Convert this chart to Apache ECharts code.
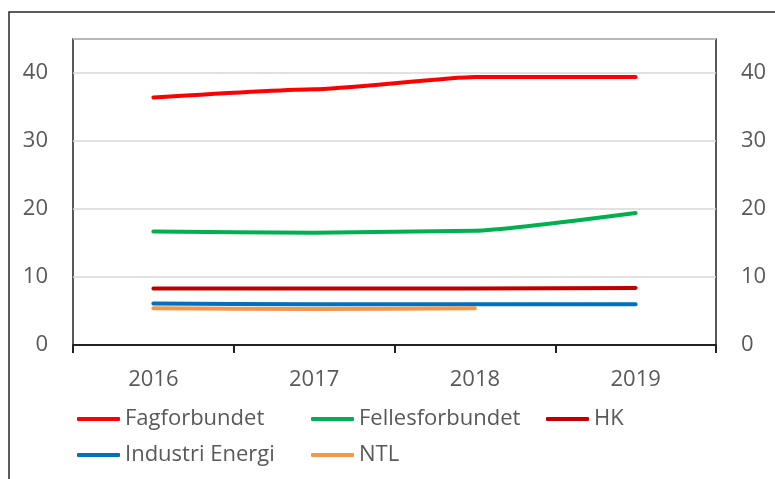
<!DOCTYPE html>
<html>
<head>
<meta charset="utf-8">
<script src="https://cdn.jsdelivr.net/npm/echarts@6/dist/echarts.min.js"></script>
<style>
  html, body { margin: 0; padding: 0; background: #fff; }
  #chart { width: 775px; height: 479px; }
</style>
</head>
<body>
<div id="chart"></div>
<script>
// data
var years = ['2016', '2017', '2018', '2019'];
var fagforbundet = [36.4, 37.6, 39.4, 39.4];
var fellesforbundet = [16.7, 16.5, 16.8, 19.4];
var hk = [8.3, 8.3, 8.3, 8.4];
var industriEnergi = [6.1, 6.0, 6.0, 6.0];
var ntl = [5.4, 5.3, 5.4, null];

var txt = '#595959';
var font = 'Open Sans';

function line(name, data, color) {
    return {
        name: name,
        type: 'line',
        data: data,
        smooth: 0.15,
        smoothMonotone: 'x',
        showSymbol: false,
        symbol: 'none',
        connectNulls: false,
        lineStyle: { color: color, width: 4, cap: 'round', join: 'round' },
        itemStyle: { color: color }
    };
}

function yAx(pos) {
    return {
        type: 'value',
        position: pos,
        min: 0,
        max: 45,
        interval: 10,
        axisLine: { show: false },
        axisTick: { show: false },
        axisLabel: {
            color: txt, fontFamily: font, fontSize: 22,
            margin: 25, showMaxLabel: false
        },
        splitLine: { show: pos == 'left', lineStyle: { color: '#d9d9d9', width: 1.5 } }
    };
}

function legend(left, items) {
    return {
        orient: 'vertical',
        left: left,
        top: 408,
        padding: 0,
        itemGap: 14,
        itemWidth: 43,
        itemHeight: 4,
        icon: 'roundRect',
        data: items,
        textStyle: { color: txt, fontFamily: font, fontSize: 22, lineHeight: 22 }
    };
}

var myChart = echarts.init(document.getElementById('chart'));

var option = {
    animation: false,
    backgroundColor: '#fff',
    grid: {
        left: 73, top: 39, right: 59, bottom: 134,
        show: true, borderColor: '#222', borderWidth: 1.5,
        containLabel: false
    },
    graphic: [{
        type: 'rect',
        shape: { x: 9, y: 12, width: 800, height: 500 },
        style: { fill: 'none', stroke: '#262626', lineWidth: 1.5 },
        silent: true
    }],
    xAxis: {
        type: 'category',
        data: years,
        boundaryGap: true,
        axisLine: { lineStyle: { color: '#222', width: 2 } },
        axisTick: { show: true, length: 8, lineStyle: { color: '#222', width: 2 } },
        axisLabel: { color: txt, fontFamily: font, fontSize: 22, lineHeight: 22, margin: 24 },
        splitLine: { show: false }
    },
    yAxis: [yAx('left'), yAx('right')],
    legend: [
        legend(77, ['Fagforbundet', 'Industri Energi']),
        legend(311, ['Fellesforbundet', 'NTL']),
        legend(546, ['HK'])
    ],
    series: [
        line('Fagforbundet', fagforbundet, '#FF0000'),
        line('Fellesforbundet', fellesforbundet, '#00B050'),
        line('HK', hk, '#C00000'),
        line('Industri Energi', industriEnergi, '#0070C0'),
        line('NTL', ntl, '#F79646')
    ]
};

myChart.setOption(option);
</script>
</body>
</html>
